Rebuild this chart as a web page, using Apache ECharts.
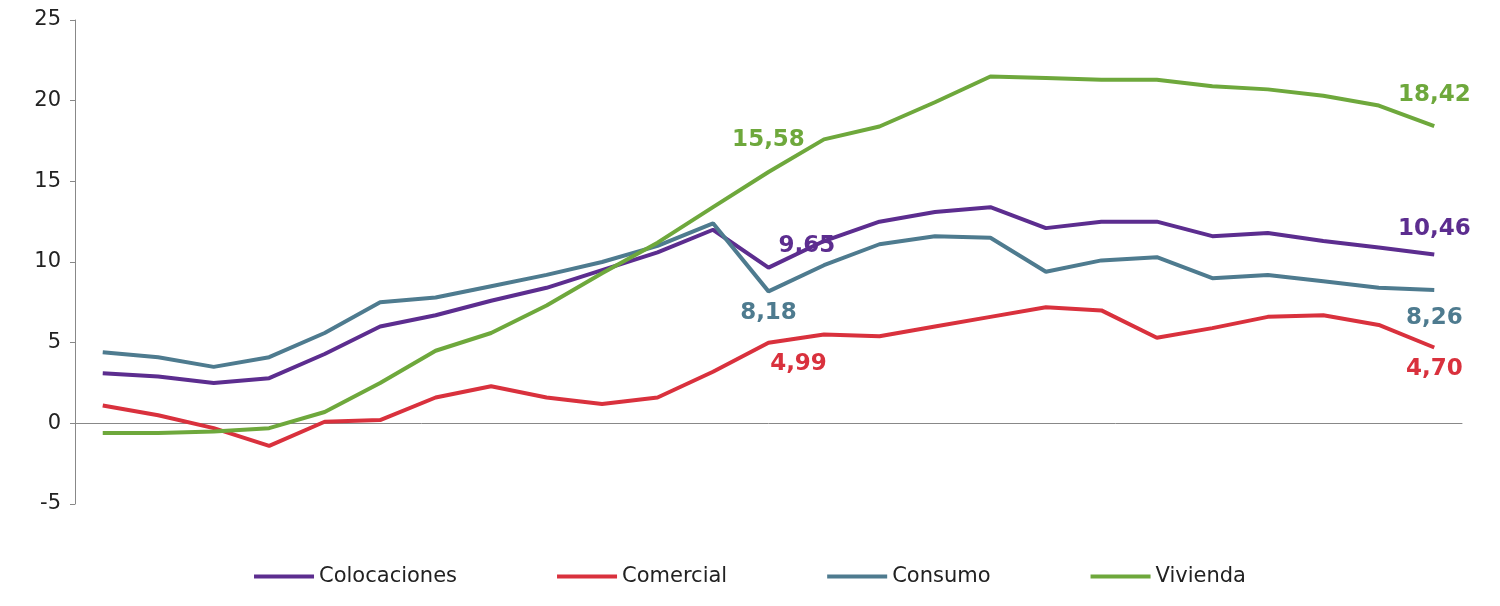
<!DOCTYPE html>
<html><head><meta charset="utf-8">
<script src="https://cdn.jsdelivr.net/npm/echarts@6/dist/echarts.min.js"></script>
<style>html,body{margin:0;background:#fff}#c{width:1500px;height:606px}</style>
</head><body><div id="c"></div>
<script>
const months = ["jul'22","ago'22","sep'22","oct'22","nov'22","dic'22","ene'23","feb'23","mar'23","abr'23","may'23","jun'23",
  "jul'23","ago'23","sep'23","oct'23","nov'23","dic'23","ene'24","feb'24","mar'24","abr'24","may'24","jun'24","jul'24"];
const colocaciones = [3.1,2.9,2.5,2.8,4.3,6.0,6.7,7.6,8.4,9.5,10.6,12.0,9.65,11.3,12.5,13.1,13.4,12.1,12.5,12.5,11.6,11.8,11.3,10.9,10.46];
const comercial = [1.1,0.5,-0.3,-1.4,0.1,0.2,1.6,2.3,1.6,1.2,1.6,3.2,4.99,5.5,5.4,6.0,6.6,7.2,7.0,5.3,5.9,6.6,6.7,6.1,4.70];
const consumo = [4.4,4.1,3.5,4.1,5.6,7.5,7.8,8.5,9.2,10.0,11.0,12.4,8.18,9.8,11.1,11.6,11.5,9.4,10.1,10.3,9.0,9.2,8.8,8.4,8.26];
const vivienda = [-0.6,-0.6,-0.5,-0.3,0.7,2.5,4.5,5.6,7.3,9.3,11.2,13.4,15.58,17.6,18.4,19.9,21.5,21.4,21.3,21.3,20.9,20.7,20.3,19.7,18.42];

const fmt = v => v.toFixed(2).replace('.', ',');
function labeled(values, color, marks) {
  return values.map((v, i) => {
    if (!(i in marks)) return v;
    return { value: v, label: { show: true, position: marks[i][0], offset: marks[i][1], formatter: fmt(v), color: color,
      fontFamily: 'DejaVu Sans', fontWeight: 'bold', fontSize: 23, distance: 10 } };
  });
}
const C = { col: '#5c2d8f', com: '#d9313d', con: '#4e7b8f', viv: '#6ea83c' };
function line(name, data, color) {
  return { name, type: 'line', data, symbol: 'circle', symbolSize: 0, showSymbol: true,
    lineStyle: { width: 4, color }, itemStyle: { color } };
}
const chart = echarts.init(document.getElementById('c'));
chart.setOption({
  animation: false,
  grid: { left: 75, right: 38, top: 20, bottom: 102, outerBoundsMode: 'none', containLabel: false },
  legend: { bottom: 14, itemWidth: 60, itemHeight: 4, itemGap: 100, icon: 'rect',
    textStyle: { fontFamily: 'DejaVu Sans', fontSize: 21, color: '#222' } },
  xAxis: { type: 'category', data: months, boundaryGap: true,
    axisLine: { onZero: true, lineStyle: { color: '#888' } },
    axisTick: { alignWithLabel: false, length: 8, lineStyle: { color: '#888' },
      interval: i => i > 0 && i % 6 === 0 },
    axisLabel: { interval: 5, color: '#222', fontFamily: 'DejaVu Sans', fontSize: 21, margin: 104 } },
  yAxis: { type: 'value', min: -5, max: 25, interval: 5, splitLine: { show: false },
    axisLine: { show: true, lineStyle: { color: '#888' } },
    axisTick: { show: true, lineStyle: { color: '#888' } },
    axisLabel: { color: '#222', fontFamily: 'DejaVu Sans', fontSize: 21, margin: 14 } },
  series: [
    line('Colocaciones', labeled(colocaciones, C.col, { 12: ['right', [0, -22]], 24: ['top', [0, -4]] }), C.col),
    line('Comercial', labeled(comercial, C.com, { 12: ['bottom', [30, 0]], 24: ['bottom', [0, 0]] }), C.com),
    line('Consumo', labeled(consumo, C.con, { 12: ['bottom', [0, 0]], 24: ['bottom', [0, 6]] }), C.con),
    line('Vivienda', labeled(vivienda, C.viv, { 12: ['top', [0, -10]], 24: ['top', [0, -10]] }), C.viv)
  ]
});
</script></body></html>
